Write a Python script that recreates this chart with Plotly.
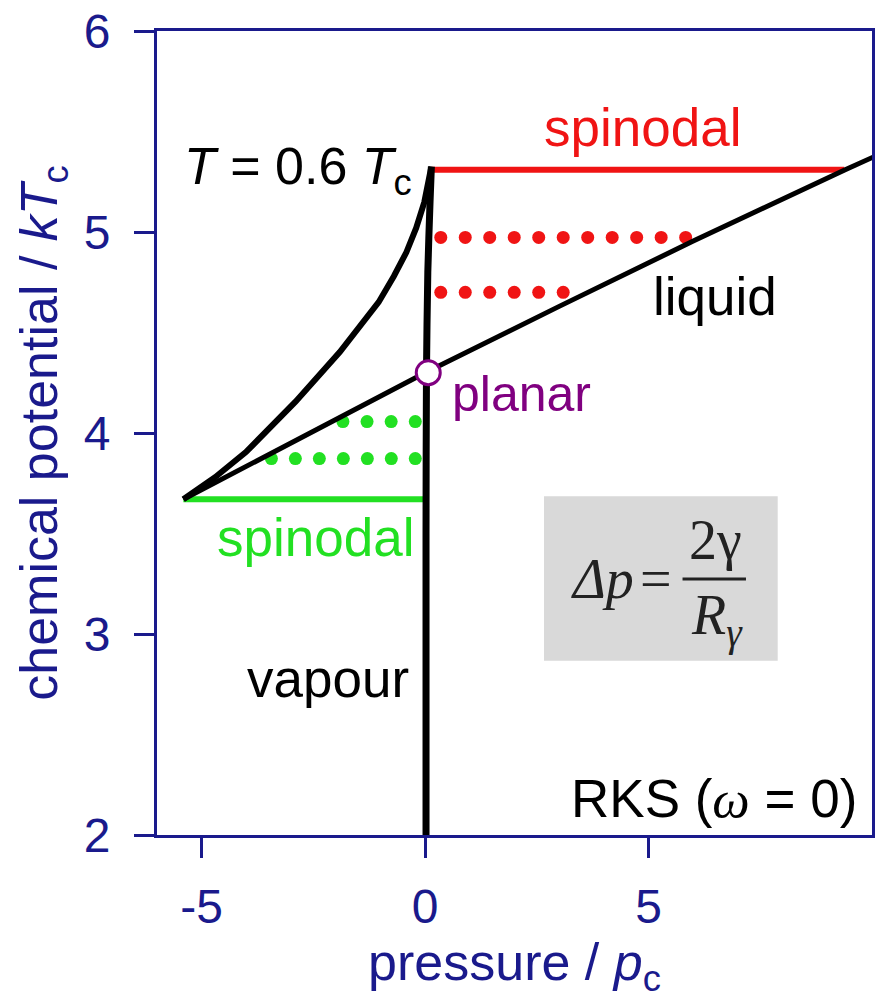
import numpy as np
import plotly.graph_objects as go

# ---- data (pressure / p_c, chemical potential / kT_c) ----
vapour_p = [0.02, 0.02, 0.03, 0.06, 0.11, 0.14]
vapour_mu = [2.0, 3.5, 4.3, 4.8, 5.15, 5.325]

unstable_p = [0.14, 0.06, -0.02, -0.20, -0.42, -0.70, -1.04, -1.91, -2.90, -4.01, -4.70, -5.41]
unstable_mu = [5.325, 5.24, 5.147, 5.02, 4.899, 4.78, 4.651, 4.403, 4.156, 3.905, 3.78, 3.67]

liquid_p = [-5.41, -3.0, 0.0, 3.0, 6.0, 9.4, 10.2]
liquid_mu = [3.67, 3.95, 4.30, 4.63, 4.955, 5.31, 5.39]

red_spinodal_p = [0.14, 9.38]
red_spinodal_mu = [5.31, 5.31]
green_spinodal_p = [-5.41, 0.02]
green_spinodal_mu = [3.67, 3.67]

# dotted rows: (mu level, first p, last p, number of dots)
red_rows_mu = [4.973, 4.70]
red_rows_p0 = [0.35, 0.35]
red_rows_p1 = [5.83, 3.09]
red_rows_n = [11, 6]

green_rows_mu = [4.057, 3.873]
green_rows_p0 = [-0.22, -0.22]
green_rows_p1 = [-1.84, -3.44]
green_rows_n = [4, 7]

planar_p = [0.07]
planar_mu = [4.30]

x_ticks = [-5, 0, 5]
y_ticks = [2, 3, 4, 5, 6]

NAVY = "#1a1a8c"
RED = "#f01414"
GREEN = "#22e022"
PURPLE = "#800080"
FONT = "Liberation Sans, Arial, sans-serif"
SERIF = "Liberation Serif, Times New Roman, serif"
INK = "#222222"

fig = go.Figure()

fig.add_trace(go.Scatter(x=red_spinodal_p, y=red_spinodal_mu, mode="lines",
                         line=dict(color=RED, width=6)))
fig.add_trace(go.Scatter(x=green_spinodal_p, y=green_spinodal_mu, mode="lines",
                         line=dict(color=GREEN, width=6)))

for mu, p0, p1, n in zip(red_rows_mu, red_rows_p0, red_rows_p1, red_rows_n):
    fig.add_trace(go.Scatter(x=np.linspace(p0, p1, n), y=[mu] * n, mode="markers",
                             marker=dict(color=RED, size=13, line=dict(width=0))))
for mu, p0, p1, n in zip(green_rows_mu, green_rows_p0, green_rows_p1, green_rows_n):
    fig.add_trace(go.Scatter(x=np.linspace(p0, p1, n), y=[mu] * n, mode="markers",
                             marker=dict(color=GREEN, size=13, line=dict(width=0))))

fig.add_trace(go.Scatter(x=liquid_p, y=liquid_mu, mode="lines",
                         line=dict(color="black", width=5)))
fig.add_trace(go.Scatter(x=unstable_p, y=unstable_mu, mode="lines",
                         line=dict(color="black", width=6)))
fig.add_trace(go.Scatter(x=vapour_p, y=vapour_mu, mode="lines",
                         line=dict(color="black", width=7, shape="spline", smoothing=0.6)))

fig.add_trace(go.Scatter(x=planar_p, y=planar_mu, mode="markers",
                         marker=dict(symbol="circle", size=24, color="white",
                                     line=dict(color=PURPLE, width=3))))

# formula box
fig.add_shape(type="rect", x0=2.66, x1=7.89, y0=2.867, y1=3.685, xref="x", yref="y",
              fillcolor="#d9d9d9", line=dict(width=0), layer="below")
fig.add_shape(type="line", x0=5.76, x1=7.18, y0=3.274, y1=3.274, xref="x", yref="y",
              line=dict(color=INK, width=3))

def ann(text, x, y, color="black", size=53, xanchor="left", family=FONT):
    fig.add_annotation(text=text, x=x, y=y, xref="x", yref="y", showarrow=False,
                       xanchor=xanchor, yanchor="middle",
                       font=dict(family=family, size=size, color=color))

ann("<i>T</i> = 0.6 <i>T</i><sub>c</sub>", -5.45, 5.31, size=52)
ann("spinodal", 2.62, 5.52, color=RED)
ann("liquid", 5.06, 4.68)
ann("planar", 0.55, 4.195, color=PURPLE, size=50)
ann("spinodal", -4.70, 3.48, color=GREEN)
ann("vapour", -4.04, 2.78)
ann("RKS (<span style='font-family:Liberation Serif'><i>ω</i></span> = 0)", 9.71, 2.18, xanchor="right")

ann("<i>Δp</i>", 3.22, 3.274, size=56, family=SERIF, color=INK)
ann("=", 5.17, 3.274, size=56, family=SERIF, color=INK, xanchor="center")
ann("2γ", 6.50, 3.47, size=56, family=SERIF, color=INK, xanchor="center")
ann("<i>R</i><sub><i>γ</i></sub>", 5.90, 3.07, size=56, family=SERIF, color=INK)

fig.update_layout(
    width=880, height=1000,
    margin=dict(l=157, r=5, t=28, b=165),
    paper_bgcolor="white", plot_bgcolor="white",
    showlegend=False,
    font=dict(family=FONT, color=NAVY, size=48),
)
fig.update_xaxes(
    range=[-6, 10], tickvals=x_ticks, ticktext=[str(v) for v in x_ticks],
    showgrid=False, zeroline=False, showline=True, mirror=True,
    linecolor=NAVY, linewidth=3, ticks="outside", ticklen=20, tickwidth=3,
    tickcolor=NAVY, tickfont=dict(size=48, color=NAVY, family=FONT),
    ticklabelstandoff=7,
    title=dict(text="pressure / <i>p</i><sub>c</sub>", font=dict(size=52, color=NAVY, family=FONT),
               standoff=12),
)
fig.update_yaxes(
    range=[2, 6], tickvals=y_ticks, ticktext=[str(v) for v in y_ticks],
    showgrid=False, zeroline=False, showline=True, mirror=True,
    linecolor=NAVY, linewidth=3, ticks="outside", ticklen=20, tickwidth=3,
    tickcolor=NAVY, tickfont=dict(size=48, color=NAVY, family=FONT),
    ticklabelstandoff=14,
    title=dict(text="chemical potential / <i>kT</i><sub>c</sub>",
               font=dict(size=52, color=NAVY, family=FONT), standoff=10),
)

fig.write_html("out.html")
